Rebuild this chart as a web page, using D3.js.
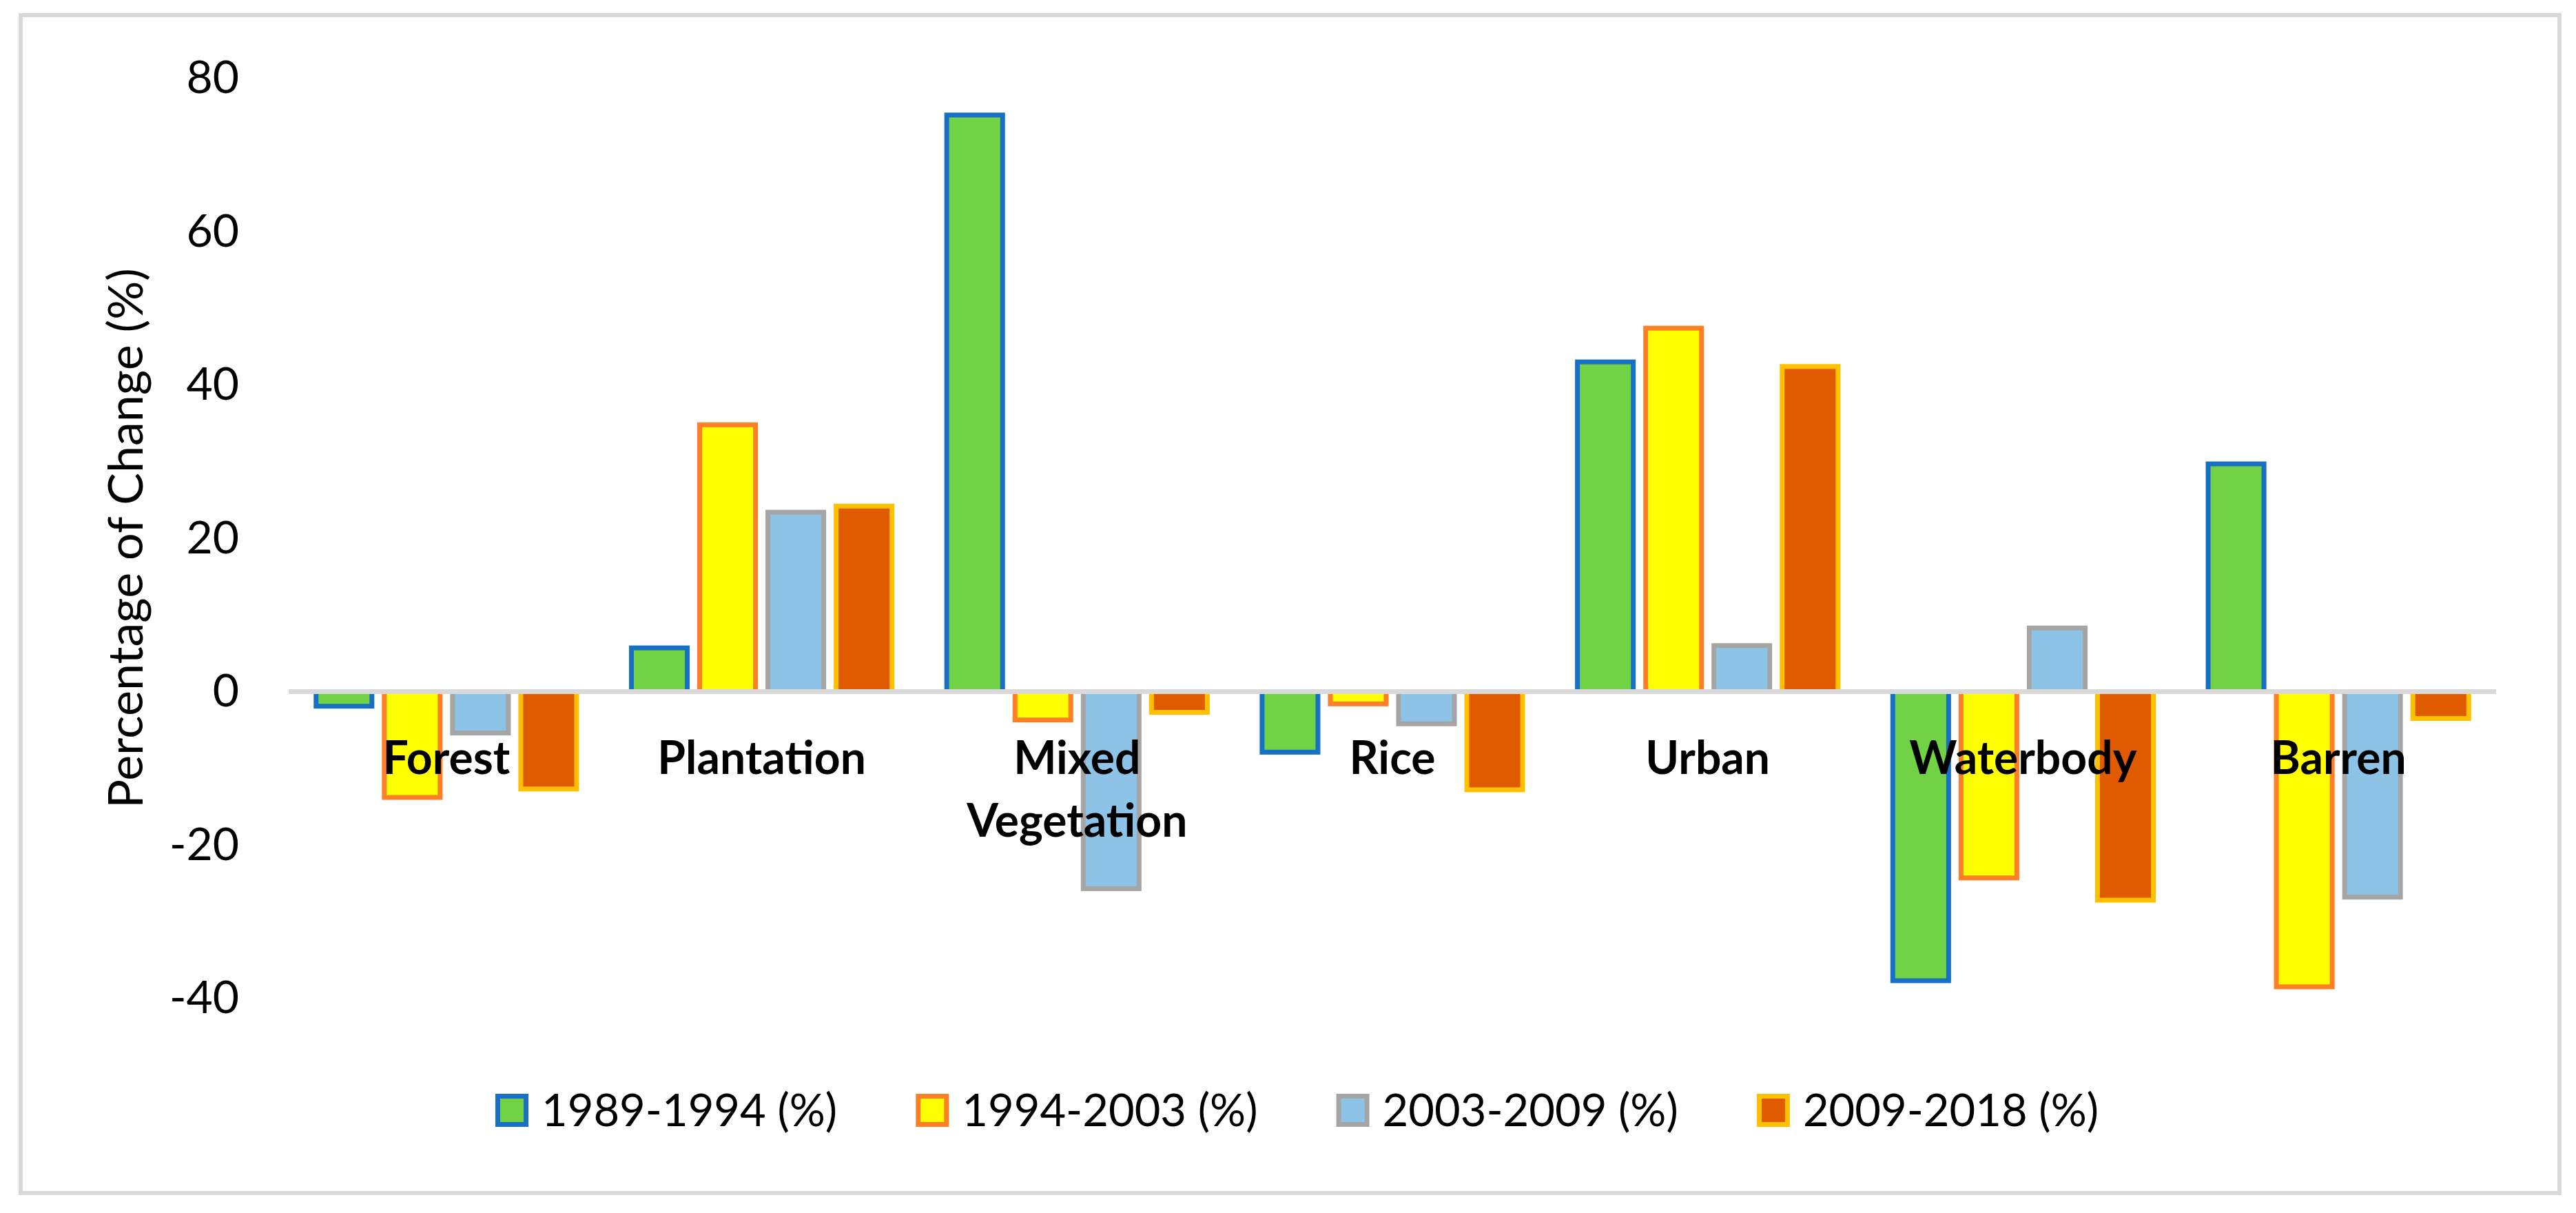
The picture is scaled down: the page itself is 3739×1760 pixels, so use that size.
<!DOCTYPE html>
<html>
<head>
<meta charset="utf-8">
<script src="https://cdn.jsdelivr.net/npm/d3@7"></script>
<style>
  html, body { margin: 0; padding: 0; background: #ffffff; }
  svg { display: block; }
  text { font-family: Lato, "Open Sans", sans-serif; fill: #000; }
</style>
</head>
<body>
<svg id="chart" width="3739" height="1760"></svg>
<script>
// ---- data ----
const categories = ["Forest", "Plantation", "Mixed\nVegetation", "Rice", "Urban", "Waterbody", "Barren"];
const seriesNames = ["1989-1994 (%)", "1994-2003 (%)", "2003-2009 (%)", "2009-2018 (%)"];
const s1989_1994 = [-1.9, 5.7, 75.2, -7.9, 43.0, -37.7, 29.7];
const s1994_2003 = [-13.8, 34.8, -3.7, -1.6, 47.4, -24.3, -38.5];
const s2003_2009 = [-5.4, 23.4, -25.7, -4.2, 6.0, 8.3, -26.8];
const s2009_2018 = [-12.7, 24.2, -2.7, -12.8, 42.4, -27.2, -3.5];
const yTicks = [-40, -20, 0, 20, 40, 60, 80];
const fills = ["#70D244", "#FFFF00", "#8DC3E6", "#E05A00"];
const strokes = ["#1870C4", "#FF7F27", "#A5A5A5", "#FFC000"];

const seriesValues = [s1989_1994, s1994_2003, s2003_2009, s2009_2018];

const svg = d3.select("#chart");

// outer border
svg.append("rect")
  .attr("x", 30).attr("y", 22)
  .attr("width", 3685).attr("height", 1709)
  .attr("fill", "#ffffff")
  .attr("stroke", "#D9D9D9")
  .attr("stroke-width", 6);

// scales
const x0 = d3.scaleBand()
  .domain(categories)
  .range([419, 3623])
  .paddingInner(0.1344)
  .paddingOuter(0.0672);

const x1 = d3.scaleBand()
  .domain(seriesNames)
  .range([0, x0.bandwidth()])
  .paddingInner(0.1818)
  .paddingOuter(0.0909);

const y = d3.scaleLinear()
  .domain([-40, 80])
  .range([1448.5, 113.5]);

// y axis (labels only)
const yAxis = svg.append("g")
  .attr("transform", "translate(419,0)")
  .call(d3.axisLeft(y).tickValues(yTicks).tickSize(0).tickPadding(72).tickFormat(d3.format("d")));
yAxis.select(".domain").remove();
yAxis.selectAll("text")
  .attr("font-family", "Lato, 'Open Sans', sans-serif")
  .attr("font-size", 66)
  .attr("fill", "#000")
  .text(d => d < 0 ? "-" + Math.abs(d) : String(d));

// y axis title
svg.append("text")
  .attr("transform", `translate(207,${(y(-40) + y(80)) / 2}) rotate(-90)`)
  .attr("text-anchor", "middle")
  .attr("font-size", 70)
  .text("Percentage of Change (%)");

// bars
const groups = svg.append("g").selectAll("g")
  .data(categories)
  .join("g")
  .attr("transform", d => `translate(${x0(d)},0)`);

groups.selectAll("rect")
  .data((c, ci) => seriesNames.map((s, si) => ({ s, si, v: seriesValues[si][ci] })))
  .join("rect")
  .attr("x", d => x1(d.s))
  .attr("width", x1.bandwidth())
  .attr("y", d => y(Math.max(0, d.v)))
  .attr("height", d => Math.abs(y(d.v) - y(0)))
  .attr("fill", d => fills[d.si])
  .attr("stroke", d => strokes[d.si])
  .attr("stroke-width", 7);

// zero line (category axis)
svg.append("line")
  .attr("x1", 419).attr("x2", 3623)
  .attr("y1", y(0)).attr("y2", y(0))
  .attr("stroke", "#D9D9D9")
  .attr("stroke-width", 7);

// category labels
const catLabels = svg.append("g").selectAll("text")
  .data(categories)
  .join("text")
  .attr("x", d => x0(d) + x0.bandwidth() / 2)
  .attr("y", y(0) + 119.5)
  .attr("text-anchor", "middle")
  .attr("font-size", 66)
  .attr("font-weight", "bold");
catLabels.each(function(d) {
  const lines = d.split("\n");
  const t = d3.select(this);
  lines.forEach((ln, i) => {
    t.append("tspan")
      .attr("x", x0(d) + x0.bandwidth() / 2)
      .attr("dy", i === 0 ? 0 : 91)
      .text(ln);
  });
});

// legend
const legend = svg.append("g").selectAll("g")
  .data(seriesNames)
  .join("g")
  .attr("transform", (d, i) => `translate(${722.5 + i * 610.3},1590.5)`);
legend.append("rect")
  .attr("width", 41).attr("height", 41)
  .attr("fill", (d, i) => fills[i])
  .attr("stroke", (d, i) => strokes[i])
  .attr("stroke-width", 7);
legend.append("text")
  .attr("x", 63.5)
  .attr("y", 43.5)
  .attr("font-size", 65)
  .text(d => d);
</script>
</body>
</html>
